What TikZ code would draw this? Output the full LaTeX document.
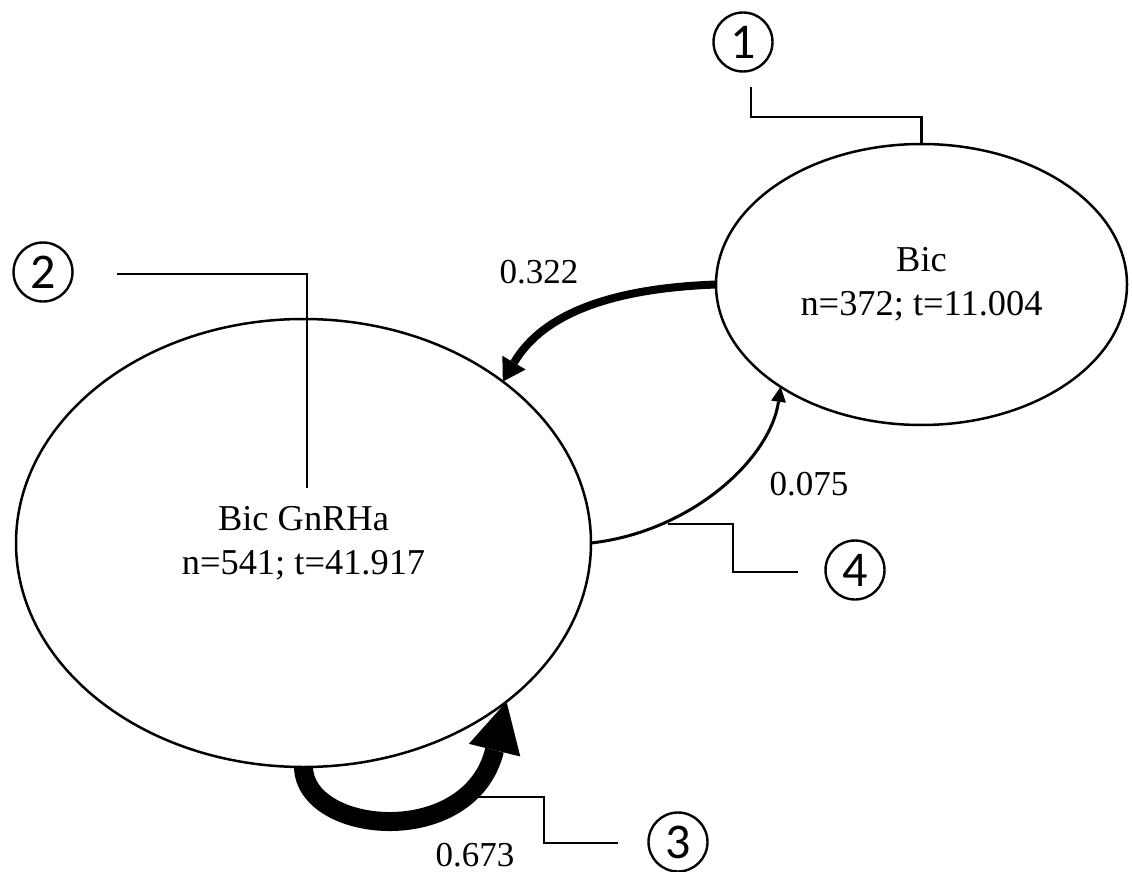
\documentclass[tikz,border=0pt]{standalone}
\usepackage{fontspec}
\setmainfont{Liberation Serif}
\newfontfamily\digitfont{Carlito}
\usetikzlibrary{arrows.meta,shapes.geometric}
\begin{document}
\begin{tikzpicture}[x=1pt,y=-1pt,
  state/.style={ellipse,draw,line width=2.5pt,inner sep=0pt,outer sep=0pt,
    align=center,font=\fontsize{36.4}{44}\selectfont},
  tag/.style={circle,draw,line width=2.4pt,minimum size=59pt,inner sep=0pt,
    font=\digitfont\fontsize{50}{50}\selectfont},
  leader/.style={line width=2.5pt},
  prob/.style={font=\fontsize{35}{42}\selectfont,inner sep=0pt},
]
\useasboundingbox (0,0) rectangle (1132,872);

% the two states
\node[state,minimum width=575pt,minimum height=448pt] (bg) at (303.5,543)
  {Bic GnRHa\\n=541; t=41.917};
\node[state,minimum width=411pt,minimum height=281pt] (bic) at (921.5,284.5)
  {Bic\\n=372; t=11.004};

% numbered callouts
\node[tag] (t1) at (743,42) {1};
\node[tag] (t2) at (43,272) {2};
\node[tag] (t3) at (678,842) {3};
\node[tag] (t4) at (855,570) {4};

% transitions
\draw[line width=8pt,-{Triangle[length=22pt,width=27pt,line width=0pt]}]
  (bic.west) .. controls (620,288) and (545,310) .. (bg.39);
\draw[line width=3pt,-{Triangle[length=15pt,width=15pt,line width=0pt]}]
  (bg.east) .. controls (690,532) and (770,460) .. (bic.216);
\draw[line width=19pt,-{Triangle[length=50pt,width=53pt,line width=0pt]}]
  (bg.south) .. controls (305,835) and (470,850) .. (bg.322);

% transition probabilities
\node[prob] (p1) at (539,272) {0.322};
\node[prob] (p2) at (809,484) {0.075};
\node[prob] (p3) at (475,855) {0.673};

% callout leader lines
\coordinate (l1) at (751,87);
\draw[leader] (l1) -- (751,117) -| (bic.north);
\coordinate (l2) at (117,274);
\coordinate (l2e) at (307,488);
\draw[leader] (l2) -| (l2e);
\coordinate (l3) at (473,797);
\coordinate (l3e) at (618,843);
\draw[leader] (l3) -- (544,797) |- (l3e);
\coordinate (l4) at (668,524);
\coordinate (l4e) at (798,572);
\draw[leader] (l4) -- (733,524) |- (l4e);
\end{tikzpicture}
\end{document}
